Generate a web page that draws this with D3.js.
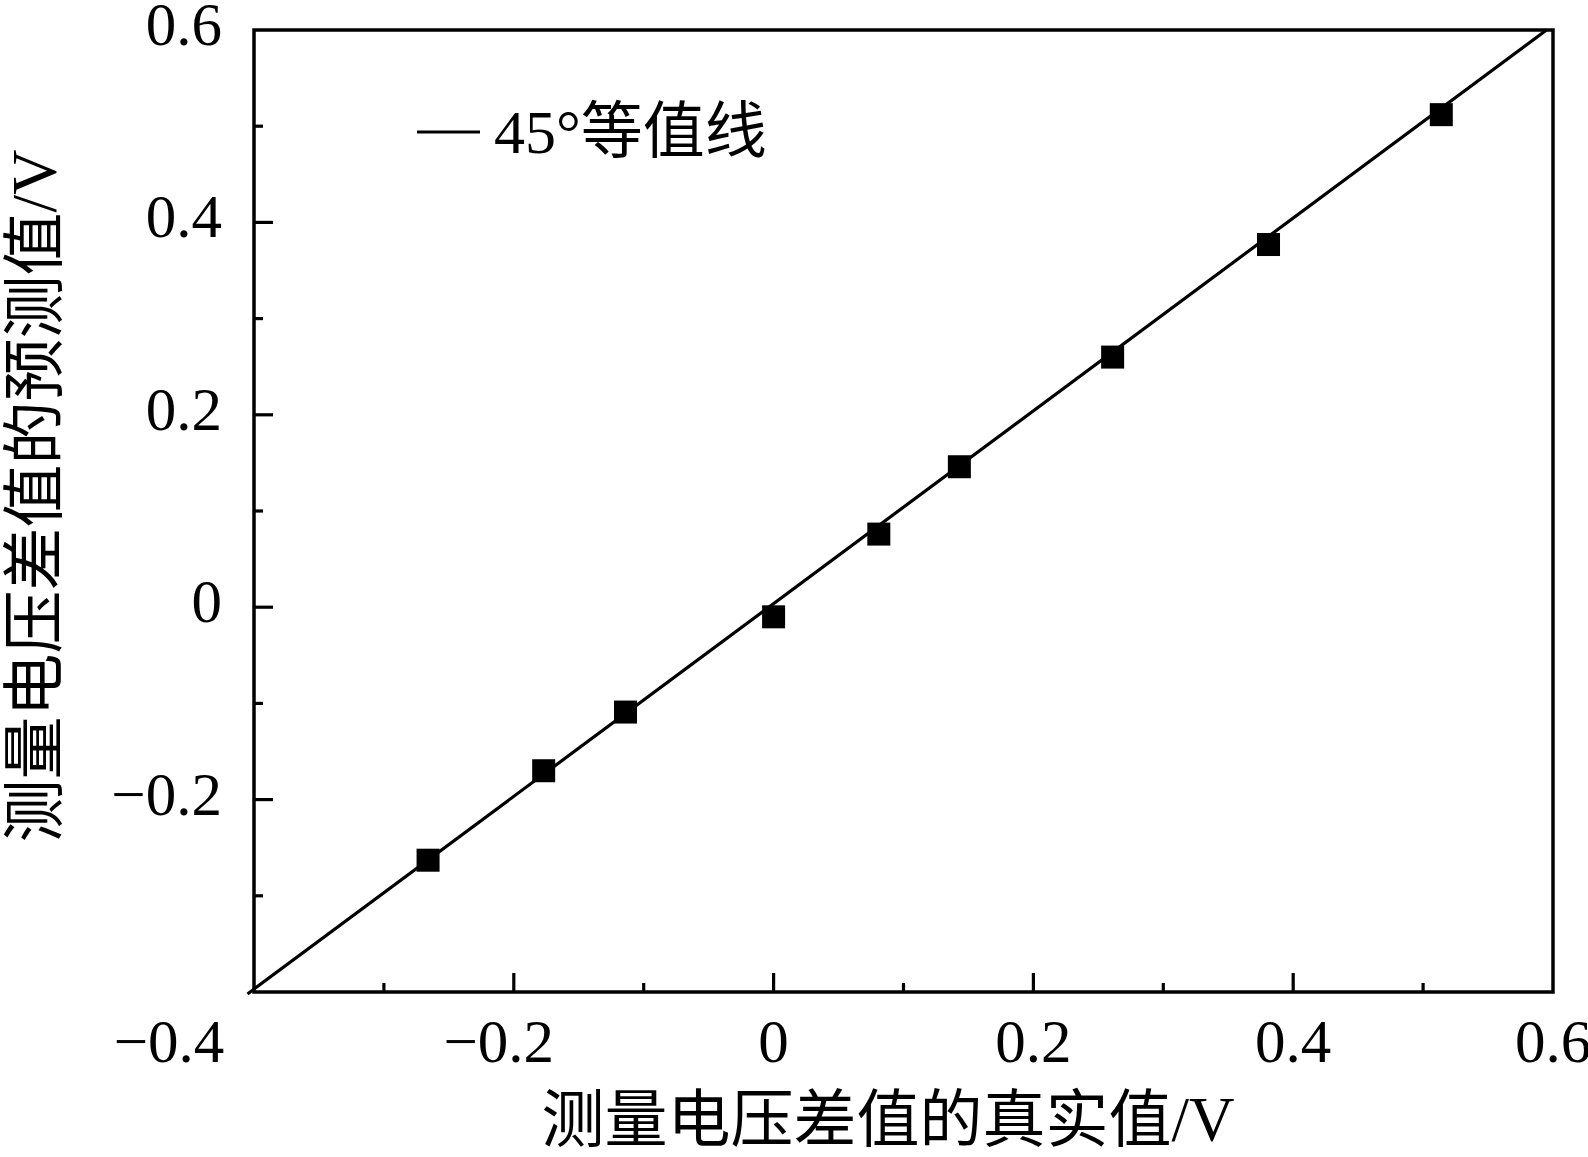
<!DOCTYPE html>
<html>
<head>
<meta charset="utf-8">
<script src="https://cdn.jsdelivr.net/npm/d3@7"></script>
<style>
  html, body { margin: 0; padding: 0; background: #fff; }
  svg { display: block; }
  text { font-family: "Liberation Serif", "Noto Sans CJK SC", serif; fill: #000; }
</style>
</head>
<body>
<svg id="chart" width="1588" height="1157"></svg>
<script>
// ---- data ----
const trueValues      = [-0.266, -0.177, -0.114, 0.000, 0.081, 0.143, 0.261, 0.381, 0.514];
const predictedValues = [-0.263, -0.170, -0.109, -0.010, 0.076, 0.146, 0.260, 0.377, 0.512];
const xMajorTicks = [-0.4, -0.2, 0, 0.2, 0.4, 0.6];
const xMinorTicks = [-0.3, -0.1, 0.1, 0.3, 0.5];
const yMajorTicks = [-0.2, 0, 0.2, 0.4, 0.6];
const yMinorTicks = [-0.3, -0.1, 0.1, 0.3, 0.5];
const refLine = [[-0.405, -0.402], [0.595, 0.6]];
const legendLabel = "45°等值线";
const xTitle = "测量电压差值的真实值/V";
const yTitle = "测量电压差值的预测值/V";

const fmt = v => v === 0 ? "0" : (v < 0 ? "\u2212" + Math.abs(v).toFixed(1) : v.toFixed(1));

// ---- layout ----
const L = 254, R = 1553, T = 30, B = 992;
const x = d3.scaleLinear().domain([-0.4, 0.6]).range([L, R]);
const y = d3.scaleLinear().domain([-0.4, 0.6]).range([B, T]);

const svg = d3.select("#chart");
const fs = 61;

// reference 45° line
svg.append("path")
  .attr("d", d3.line().x(d => x(d[0])).y(d => y(d[1]))(refLine))
  .attr("stroke", "#000").attr("stroke-width", 3.2).attr("fill", "none");

// frame
svg.append("rect").attr("x", L).attr("y", T).attr("width", R - L).attr("height", B - T)
  .attr("fill", "none").attr("stroke", "#000").attr("stroke-width", 3.5);

// x ticks (inward)
svg.append("g").selectAll("line").data(xMajorTicks.filter(v => v > -0.4 && v < 0.6)).join("line")
  .attr("x1", d => x(d)).attr("x2", d => x(d)).attr("y1", B).attr("y2", B - 19)
  .attr("stroke", "#000").attr("stroke-width", 3.2);
svg.append("g").selectAll("line").data(xMinorTicks).join("line")
  .attr("x1", d => x(d)).attr("x2", d => x(d)).attr("y1", B).attr("y2", B - 9)
  .attr("stroke", "#000").attr("stroke-width", 3.2);
// y ticks (inward)
svg.append("g").selectAll("line").data(yMajorTicks.filter(v => v < 0.6)).join("line")
  .attr("x1", L).attr("x2", L + 19).attr("y1", d => y(d)).attr("y2", d => y(d))
  .attr("stroke", "#000").attr("stroke-width", 3.2);
svg.append("g").selectAll("line").data(yMinorTicks).join("line")
  .attr("x1", L).attr("x2", L + 9).attr("y1", d => y(d)).attr("y2", d => y(d))
  .attr("stroke", "#000").attr("stroke-width", 3.2);

// x tick labels
svg.append("g").selectAll("text").data(xMajorTicks).join("text")
  .attr("x", d => x(d)).attr("y", B + 70)
  .attr("text-anchor", "middle")
  .attr("dx", d => d === -0.4 ? -85 : (d < 0 ? -15 : 0))
  .attr("font-size", fs)
  .text(fmt);

// y tick labels
svg.append("g").selectAll("text").data(yMajorTicks).join("text")
  .attr("x", 222).attr("y", d => y(d) + 15)
  .attr("text-anchor", "end")
  .attr("font-size", fs)
  .text(fmt);

// markers
const pts = trueValues.map((v, i) => [v, predictedValues[i]]);
const ms = 23;
svg.append("g").selectAll("rect").data(pts).join("rect")
  .attr("x", d => x(d[0]) - ms / 2).attr("y", d => y(d[1]) - ms / 2)
  .attr("width", ms).attr("height", ms).attr("fill", "#000");

// legend
svg.append("line").attr("x1", 417).attr("x2", 480).attr("y1", 132).attr("y2", 132)
  .attr("stroke", "#000").attr("stroke-width", 3.2);
svg.append("text").attr("x", 494).attr("y", 153).attr("font-size", 62).text(legendLabel);

// axis titles
svg.append("text").attr("x", 888).attr("y", 1141).attr("text-anchor", "middle")
  .attr("font-size", 63).text(xTitle);
svg.append("text").attr("transform", "translate(56,496) rotate(-90)")
  .attr("text-anchor", "middle").attr("font-size", 63).text(yTitle);
</script>
</body>
</html>
